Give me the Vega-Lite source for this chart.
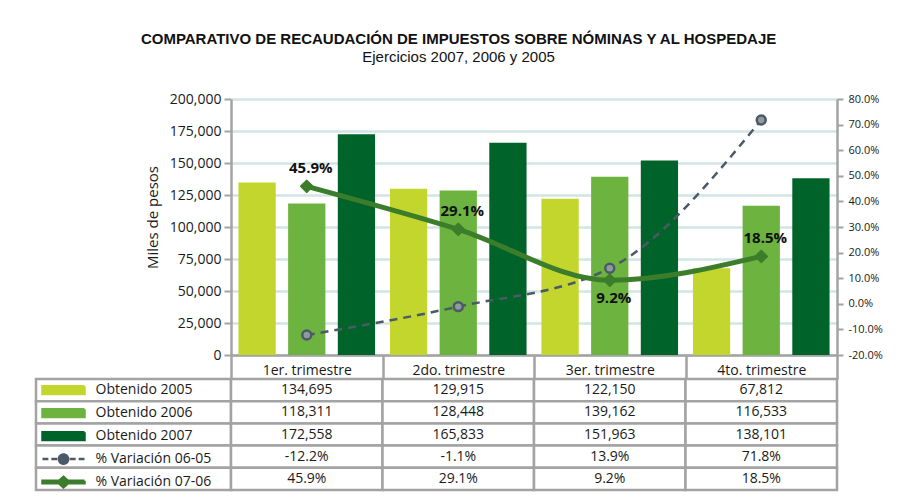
{
  "$schema": "https://vega.github.io/schema/vega-lite/v6.json",
  "padding": {"left": 34, "top": 32, "right": 0, "bottom": 0},
  "background": "white",
  "title": {
    "text": "COMPARATIVO DE RECAUDACIÓN DE IMPUESTOS SOBRE NÓMINAS Y AL HOSPEDAJE",
    "subtitle": "Ejercicios 2007, 2006 y 2005",
    "font": "Liberation Sans", "fontSize": 15, "fontWeight": "bold", "color": "#111",
    "subtitleFont": "Liberation Sans", "subtitleFontSize": 15, "subtitleColor": "#111",
    "subtitlePadding": 3, "anchor": "middle", "offset": 27
  },
  "datasets": {
    "montos": [
      {"trimestre": "1er. trimestre", "serie": "Obtenido 2005", "valor": 134695},
      {"trimestre": "1er. trimestre", "serie": "Obtenido 2006", "valor": 118311},
      {"trimestre": "1er. trimestre", "serie": "Obtenido 2007", "valor": 172558},
      {"trimestre": "2do. trimestre", "serie": "Obtenido 2005", "valor": 129915},
      {"trimestre": "2do. trimestre", "serie": "Obtenido 2006", "valor": 128448},
      {"trimestre": "2do. trimestre", "serie": "Obtenido 2007", "valor": 165833},
      {"trimestre": "3er. trimestre", "serie": "Obtenido 2005", "valor": 122150},
      {"trimestre": "3er. trimestre", "serie": "Obtenido 2006", "valor": 139162},
      {"trimestre": "3er. trimestre", "serie": "Obtenido 2007", "valor": 151963},
      {"trimestre": "4to. trimestre", "serie": "Obtenido 2005", "valor": 67812},
      {"trimestre": "4to. trimestre", "serie": "Obtenido 2006", "valor": 116533},
      {"trimestre": "4to. trimestre", "serie": "Obtenido 2007", "valor": 138101}
    ],
    "variacion": [
      {"trimestre": "1er. trimestre", "serie": "% Variación 06-05", "pct": -0.122},
      {"trimestre": "2do. trimestre", "serie": "% Variación 06-05", "pct": -0.011},
      {"trimestre": "3er. trimestre", "serie": "% Variación 06-05", "pct": 0.139},
      {"trimestre": "4to. trimestre", "serie": "% Variación 06-05", "pct": 0.718},
      {"trimestre": "1er. trimestre", "serie": "% Variación 07-06", "pct": 0.459},
      {"trimestre": "2do. trimestre", "serie": "% Variación 07-06", "pct": 0.291},
      {"trimestre": "3er. trimestre", "serie": "% Variación 07-06", "pct": 0.092},
      {"trimestre": "4to. trimestre", "serie": "% Variación 07-06", "pct": 0.185}
    ]
  },
  "columns": 2,
  "spacing": {"row": 24, "column": 0},
  "bounds": "flush",
  "resolve": {"scale": {"color": "shared", "xOffset": "independent"}},
  "concat": [
    {
      "width": 195, "height": 256,
      "data": {"values": []},
      "mark": "text",
      "encoding": {"text": {"value": ""}}
    },
    {
      "width": 606, "height": 256,
      "resolve": {"scale": {"y": "independent"}},
      "layer": [
        {
          "data": {"name": "montos"},
          "mark": {"type": "bar"},
          "encoding": {
            "x": {
              "field": "trimestre", "type": "nominal",
              "sort": ["1er. trimestre", "2do. trimestre", "3er. trimestre", "4to. trimestre"],
              "scale": {"paddingInner": 0, "paddingOuter": 0},
              "axis": {
                "title": null, "labelAngle": 0, "labelFont": "Open Sans", "labelFontSize": 14,
                "labelColor": "#1a1a1a", "labelPadding": -16, "tickBand": "extent", "tickSize": 24,
                "tickColor": "#a3a3a3", "tickWidth": 2.5, "domainColor": "#a3a3a3", "domainWidth": 2.5, "grid": false
              }
            },
            "xOffset": {
              "field": "serie", "type": "nominal",
              "sort": ["Obtenido 2005", "Obtenido 2006", "Obtenido 2007"],
              "scale": {"paddingInner": 0.25, "paddingOuter": 0.15}
            },
            "y": {
              "field": "valor", "type": "quantitative",
              "scale": {"domain": [0, 200000]},
              "axis": {
                "title": "Miles de pesos", "titleFont": "Open Sans", "titleFontSize": 15, "titleFontWeight": "normal",
                "titleColor": "#1a1a1a", "titlePadding": 9, "titleY": 118,
                "values": [0, 25000, 50000, 75000, 100000, 125000, 150000, 175000, 200000],
                "format": ",.0f", "labelFont": "Open Sans", "labelFontSize": 14, "labelColor": "#1a1a1a",
                "labelPadding": 3, "tickSize": 7, "tickColor": "#a3a3a3", "tickWidth": 2,
                "domainColor": "#a3a3a3", "domainWidth": 2.5,
                "grid": true, "gridColor": "#d3e4e4", "gridWidth": 2.5
              }
            },
            "color": {
              "field": "serie", "type": "nominal",
              "scale": {
                "domain": ["Obtenido 2005", "Obtenido 2006", "Obtenido 2007", "% Variación 06-05", "% Variación 07-06"],
                "range": ["#c2d62e", "#6cb33f", "#00632a", "#4b5968", "#3c7d2b"]
              },
              "legend": {
                "orient": "none", "legendX": 5, "legendY": 280, "title": null, "direction": "vertical",
                "padding": 0, "labelFont": "Open Sans", "labelFontSize": 14, "labelColor": "#1a1a1a",
                "labelOffset": 9.5, "symbolSize": 1764, "symbolStrokeWidth": 2.5, "clipHeight": 22.2, "rowPadding": 0,
                "symbolType": "M-1,-0.18H1V0.18H-1Z",
                "encoding": {
                  "symbols": {
                    "size": {"value": 1764},
                    "shape": {"value": {"expr": "test(/06-05/, datum.value) ? 'M-1,0H-0.72M-0.58,0H-0.3M0.22,0A0.22,0.22,0,1,1,-0.22,0A0.22,0.22,0,1,1,0.22,0ZM0.3,0H0.58M0.72,0H1' : test(/07-06/, datum.value) ? 'M-1,-0.06H1V0.06H-1ZM0,-0.25L0.28,0L0,0.25L-0.28,0Z' : 'M-1,-0.18H1V0.18H-1Z'"}},
                    "fill": {"value": {"expr": "test(/06-05/, datum.value) ? '#8d9c9b' : test(/07-06/, datum.value) ? '#3c7d2b' : scale('color', datum.value)"}},
                    "stroke": {"value": {"expr": "test(/06-05/, datum.value) ? '#4b5968' : test(/07-06/, datum.value) ? '#3c7d2b' : 'transparent'"}},
                    "strokeWidth": {"value": 2.5},
                    "strokeDash": {"value": [1, 0]},
                    "opacity": {"value": 1}
                  }
                }
              }
            }
          }
        },
        {
          "data": {"name": "variacion"},
          "encoding": {
            "x": {"field": "trimestre", "type": "nominal", "sort": ["1er. trimestre", "2do. trimestre", "3er. trimestre", "4to. trimestre"]},
            "y": {
              "field": "pct", "type": "quantitative",
              "scale": {"domain": [-0.2, 0.8]},
              "axis": {
                "orient": "right", "title": null,
                "values": [-0.2, -0.1, 0, 0.1, 0.2, 0.3, 0.4, 0.5, 0.6, 0.7, 0.8],
                "format": ".1%", "labelFont": "Open Sans", "labelFontSize": 11, "labelColor": "#1a1a1a",
                "labelPadding": 5, "tickSize": 6, "tickColor": "#a3a3a3", "tickWidth": 2,
                "domainColor": "#a3a3a3", "domainWidth": 2.5, "grid": false
              }
            }
          },
          "layer": [
            {
              "transform": [{"filter": "test(/06-05/, datum.serie)"}],
              "mark": {"type": "line", "strokeWidth": 2.5, "strokeDash": [8, 6], "interpolate": "monotone"},
              "encoding": {"color": {"field": "serie", "type": "nominal"}}
            },
            {
              "transform": [{"filter": "test(/06-05/, datum.serie)"}],
              "mark": {"type": "point", "shape": "circle", "filled": true, "fill": "#8d9c9b", "stroke": "#4b5968", "strokeWidth": 2.5, "size": 80, "opacity": 1}
            },
            {
              "transform": [{"filter": "test(/07-06/, datum.serie)"}],
              "mark": {"type": "line", "strokeWidth": 5, "interpolate": "monotone"},
              "encoding": {"color": {"field": "serie", "type": "nominal"}}
            },
            {
              "transform": [{"filter": "test(/07-06/, datum.serie)"}],
              "mark": {"type": "point", "shape": "diamond", "filled": true, "fill": "#3c7d2b", "stroke": "#3c7d2b", "strokeWidth": 2, "strokeJoin": "round", "size": 130, "opacity": 1}
            },
            {
              "transform": [{"filter": "test(/07-06/, datum.serie) && datum.trimestre !== '3er. trimestre'"}],
              "mark": {"type": "text", "dy": -18, "dx": 4, "font": "Open Sans", "fontSize": 15, "fontWeight": "bold", "color": "#111"},
              "encoding": {"text": {"field": "pct", "format": ".1%"}}
            },
            {
              "transform": [{"filter": "test(/07-06/, datum.serie) && datum.trimestre === '3er. trimestre'"}],
              "mark": {"type": "text", "dy": 18, "dx": 4, "font": "Open Sans", "fontSize": 15, "fontWeight": "bold", "color": "#111"},
              "encoding": {"text": {"field": "pct", "format": ".1%"}}
            }
          ]
        }
      ]
    },
    {
      "width": 195, "height": 111,
      "layer": [
        {
          "data": {"name": "montos"},
          "transform": [{"aggregate": [{"op": "count", "as": "n"}], "groupby": ["serie"]}],
          "mark": {"type": "rect", "fill": "white", "stroke": "#a3a3a3", "strokeWidth": 2.5},
          "encoding": {
            "y": {"field": "serie", "type": "nominal", "scale": {"domain": ["Obtenido 2005", "Obtenido 2006", "Obtenido 2007", "% Variación 06-05", "% Variación 07-06"], "paddingInner": 0, "paddingOuter": 0}, "axis": null}
          }
        },
        {
          "data": {"name": "variacion"},
          "transform": [{"aggregate": [{"op": "count", "as": "n"}], "groupby": ["serie"]}],
          "mark": {"type": "rect", "fill": "white", "stroke": "#a3a3a3", "strokeWidth": 2.5},
          "encoding": {
            "y": {"field": "serie", "type": "nominal", "axis": null}
          }
        }
      ]
    },
    {
      "width": 606, "height": 111,
      "encoding": {
        "x": {"field": "trimestre", "type": "nominal", "sort": ["1er. trimestre", "2do. trimestre", "3er. trimestre", "4to. trimestre"], "scale": {"paddingInner": 0, "paddingOuter": 0}, "axis": null},
        "y": {"field": "serie", "type": "nominal", "scale": {"domain": ["Obtenido 2005", "Obtenido 2006", "Obtenido 2007", "% Variación 06-05", "% Variación 07-06"], "paddingInner": 0, "paddingOuter": 0}, "axis": null}
      },
      "layer": [
        {"data": {"name": "montos"}, "mark": {"type": "rect", "fill": "white", "stroke": "#a3a3a3", "strokeWidth": 2.5}},
        {"data": {"name": "variacion"}, "mark": {"type": "rect", "fill": "white", "stroke": "#a3a3a3", "strokeWidth": 2.5}},
        {"data": {"name": "montos"}, "mark": {"type": "text", "font": "Open Sans", "fontSize": 14, "color": "#1a1a1a"}, "encoding": {"text": {"field": "valor", "format": ","}}},
        {"data": {"name": "variacion"}, "mark": {"type": "text", "font": "Open Sans", "fontSize": 14, "color": "#1a1a1a"}, "encoding": {"text": {"field": "pct", "format": ".1%"}}}
      ]
    }
  ],
  "config": {
    "view": {"stroke": null},
    "font": "Open Sans",
    "locale": {"number": {"decimal": ".", "thousands": ",", "grouping": [3], "currency": ["$", ""], "minus": "-"}}
  }
}
